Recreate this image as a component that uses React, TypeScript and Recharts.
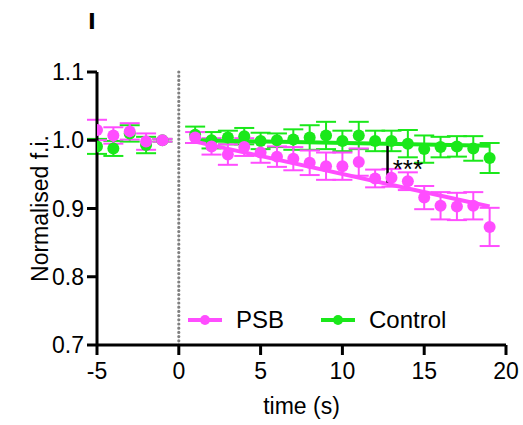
import { ComposedChart, Scatter, Line, XAxis, YAxis, ErrorBar, ReferenceLine, ReferenceDot, Legend } from 'recharts';

const times = [-5, -4, -3, -2, -1, 1, 2, 3, 4, 5, 6, 7, 8, 9, 10, 11, 12, 13, 14, 15, 16, 17, 18, 19];
const psbMean = [1.015, 1.007, 1.013, 0.998, 1.0, 1.004, 0.991, 0.979, 0.99, 0.982, 0.976, 0.973, 0.967, 0.962, 0.962, 0.968, 0.944, 0.945, 0.94, 0.916, 0.904, 0.903, 0.904, 0.873];
const psbSem = [0.015, 0.012, 0.012, 0.012, 0.002, 0.008, 0.012, 0.015, 0.013, 0.015, 0.015, 0.017, 0.018, 0.02, 0.02, 0.02, 0.013, 0.013, 0.013, 0.017, 0.02, 0.02, 0.02, 0.028];
const controlMean = [0.991, 0.988, 1.01, 0.993, 1.0, 1.008, 1.0, 1.004, 1.006, 0.999, 1.0, 1.001, 1.004, 1.007, 0.999, 1.007, 0.999, 0.999, 0.995, 0.987, 0.99, 0.991, 0.988, 0.974];
const controlSem = [0.011, 0.011, 0.012, 0.012, 0.002, 0.012, 0.012, 0.01, 0.012, 0.012, 0.01, 0.015, 0.018, 0.02, 0.015, 0.02, 0.015, 0.015, 0.02, 0.02, 0.015, 0.015, 0.018, 0.022];

const fitTimes = [1, 19];
const psbFit = [0.998, 0.903];
const controlFit = [1.0, 0.992];

const xTicks = [-5, 0, 5, 10, 15, 20];
const yTicks = [0.7, 0.8, 0.9, 1.0, 1.1];

const PSB = '#FF4DFF';
const CONTROL = '#1AE81A';
const FONT = '"Liberation Sans", Arial, sans-serif';

const psbData = times.map((x, i) => ({ x, y: psbMean[i], err: psbSem[i] }));
const controlData = times.map((x, i) => ({ x, y: controlMean[i], err: controlSem[i] }));
const psbFitData = fitTimes.map((x, i) => ({ x, y: psbFit[i] }));
const controlFitData = fitTimes.map((x, i) => ({ x, y: controlFit[i] }));

function dotShape(color: string) {
  return (props: any) => <circle cx={props.cx} cy={props.cy} r={6} fill={color} />;
}

function LegendItem({ color, label }: { color: string; label: string }) {
  return (
    <div style={{ display: 'flex', alignItems: 'center', marginRight: 36 }}>
      <svg width={36} height={12} style={{ marginRight: 13 }}>
        <line x1={1} y1={6} x2={35} y2={6} stroke={color} strokeWidth={4} />
        <circle cx={18} cy={6} r={5} fill={color} />
      </svg>
      <span style={{ fontSize: 24, color: '#000', fontFamily: FONT }}>{label}</span>
    </div>
  );
}

function LegendBox() {
  return (
    <div style={{ display: 'flex' }}>
      <LegendItem color={PSB} label="PSB" />
      <LegendItem color={CONTROL} label="Control" />
    </div>
  );
}

export default function App() {
  return (
    <div style={{ position: 'absolute', left: 0, top: 0, width: 523, height: 425, background: '#fff', fontFamily: FONT }}>
      <div style={{ position: 'absolute', left: 88, top: 12, fontSize: 21, fontWeight: 'bold', lineHeight: 1, fontFamily: '"DejaVu Sans", sans-serif' }}>I</div>
      <ComposedChart width={523} height={425} margin={{ top: 72, right: 17, bottom: 0, left: 0 }}>
        <XAxis
          type="number"
          dataKey="x"
          domain={[-5, 20]}
          ticks={xTicks}
          allowDataOverflow
          height={80}
          axisLine={{ stroke: '#000', strokeWidth: 3 }}
          tickLine={{ stroke: '#000', strokeWidth: 3 }}
          tick={{ fill: '#000', fontSize: 23, fontFamily: FONT }}
          tickSize={10}
          tickMargin={8}
          label={{ value: 'time (s)', position: 'insideBottom', offset: 11, fill: '#000', fontSize: 23, fontFamily: FONT }}
        />
        <YAxis
          type="number"
          domain={[0.7, 1.1]}
          ticks={yTicks}
          allowDataOverflow
          width={97}
          tickFormatter={(v: number) => v.toFixed(1)}
          axisLine={{ stroke: '#000', strokeWidth: 3 }}
          tickLine={{ stroke: '#000', strokeWidth: 3 }}
          tick={{ fill: '#000', fontSize: 23, fontFamily: FONT }}
          tickSize={10}
          tickMargin={3}
          label={{ value: 'Normalised f.i.', angle: -90, position: 'insideLeft', offset: 40, fill: '#000', fontSize: 23, fontFamily: FONT, style: { textAnchor: 'middle' } }}
        />
        <ReferenceLine x={0} stroke="#808080" strokeWidth={3.2} strokeDasharray="0 4.2" strokeLinecap="round" />
        <Scatter data={controlData} dataKey="y" fill={CONTROL} shape={dotShape(CONTROL)} isAnimationActive={false}>
          <ErrorBar dataKey="err" direction="y" width={10} stroke={CONTROL} strokeWidth={2} />
        </Scatter>
        <Scatter data={psbData} dataKey="y" fill={PSB} shape={dotShape(PSB)} isAnimationActive={false}>
          <ErrorBar dataKey="err" direction="y" width={10} stroke={PSB} strokeWidth={2} />
        </Scatter>
        <Line data={controlFitData} dataKey="y" stroke={CONTROL} strokeWidth={4} dot={false} isAnimationActive={false} />
        <Line data={psbFitData} dataKey="y" stroke={PSB} strokeWidth={4} dot={false} isAnimationActive={false} />
        <ReferenceLine segment={[{ x: 12.76, y: 0.992 }, { x: 12.76, y: 0.938 }]} stroke="#000" strokeWidth={2.5} />
        <ReferenceDot x={14.0} y={0.958} r={0} fill="none" stroke="none" label={{ value: '***', position: 'center', fill: '#000', fontSize: 26, fontFamily: FONT }} />
        <Legend
          layout="horizontal"
          align="center"
          verticalAlign="middle"
          content={() => <LegendBox />}
          wrapperStyle={{ left: 187, top: 306, width: 'auto', height: 'auto' }}
        />
      </ComposedChart>
    </div>
  );
}
